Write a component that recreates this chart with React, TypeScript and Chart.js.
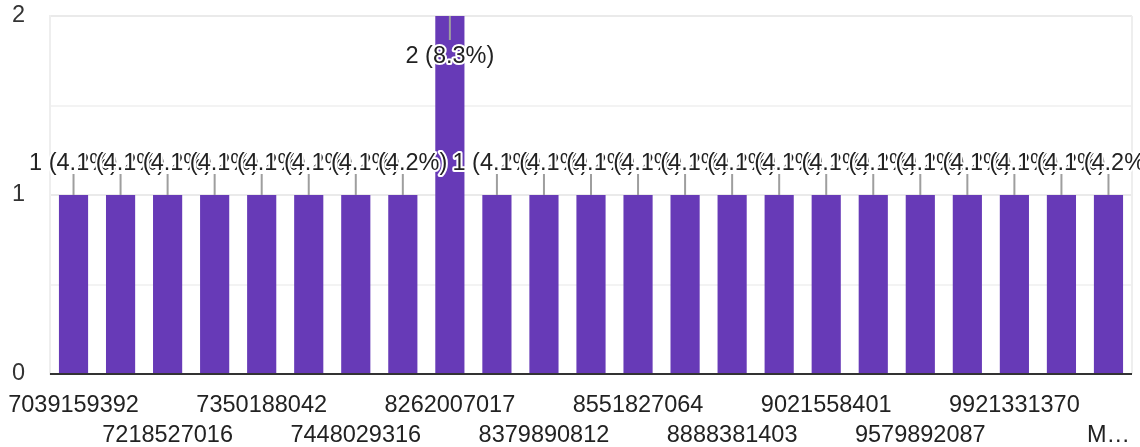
import React, { useEffect, useRef } from "react";
import { Chart, registerables } from "chart.js";

Chart.register(...registerables);

// Categories (every second label is hidden in the reference; hidden ones are placeholders in sort order)
const categories: string[] = [
  "7039159392", "7105542811", "7218527016", "7306771945", "7350188042", "7411639027",
  "7448029316", "7892015564", "8262007017", "8300517762", "8379890812", "8460227139",
  "8551827064", "8702415398", "8888381403", "8975104426", "9021558401", "9310648875",
  "9579892087", "9806251734", "9921331370", "9990176452", "M…",
];

const counts: number[] = [
  1, 1, 1, 1, 1, 1, 1, 1, 2, 1, 1, 1, 1, 1, 1, 1, 1, 1, 1, 1, 1, 1, 1,
];

const yTickValues: number[] = [0, 1, 2];

const FONT = '"Liberation Sans", Arial, sans-serif';
const BAR_COLOR = "#673ab7";

export default function App() {
  const ref = useRef<HTMLCanvasElement | null>(null);

  useEffect(() => {
    document.body.style.margin = "0";
    const canvas = ref.current;
    if (!canvas) return;
    const total = counts.reduce((a, b) => a + b, 0);
    const yMax = Math.max(...yTickValues);

    const frame = {
      id: "frame",
      beforeDatasetsDraw(chart: any) {
        const { ctx, chartArea } = chart;
        ctx.save();
        ctx.strokeStyle = "#eeeeee";
        ctx.lineWidth = 2;
        ctx.beginPath();
        ctx.moveTo(chartArea.right, chartArea.top);
        ctx.lineTo(chartArea.right, chartArea.bottom);
        ctx.stroke();
        ctx.restore();
      },
      afterDatasetsDraw(chart: any) {
        const { ctx, chartArea } = chart;
        ctx.save();
        ctx.strokeStyle = "#333333";
        ctx.lineWidth = 2;
        ctx.beginPath();
        ctx.moveTo(chartArea.left, chartArea.bottom);
        ctx.lineTo(chartArea.right, chartArea.bottom);
        ctx.stroke();
        ctx.restore();
      },
    };

    const dataLabels = {
      id: "dataLabels",
      afterDatasetsDraw(chart: any) {
        const { ctx } = chart;
        const meta = chart.getDatasetMeta(0);
        ctx.save();
        ctx.font = `23.5px ${FONT}`;
        ctx.textAlign = "center";
        ctx.textBaseline = "middle";
        meta.data.forEach((bar: any, i: number) => {
          const v = counts[i];
          const pct = ((v / total) * 100).toFixed(1);
          const text = `${v} (${pct}%)`;
          const x = bar.x;
          const top = bar.y;
          const inside = v >= yMax;
          const lineEnd = inside ? top + 24 : top - 21;
          const textY = inside ? lineEnd + 17 : lineEnd - 10;
          ctx.strokeStyle = "#9e9e9e";
          ctx.lineWidth = 2;
          ctx.beginPath();
          ctx.moveTo(x, top);
          ctx.lineTo(x, lineEnd);
          ctx.stroke();
          ctx.lineJoin = "round";
          ctx.strokeStyle = "#ffffff";
          ctx.lineWidth = 4;
          ctx.strokeText(text, x, textY);
          ctx.fillStyle = "#222222";
          ctx.fillText(text, x, textY);
        });
        ctx.restore();
      },
    };

    const chart = new Chart(canvas, {
      type: "bar",
      data: {
        labels: categories,
        datasets: [
          {
            data: counts,
            backgroundColor: BAR_COLOR,
            borderWidth: 0,
            categoryPercentage: 1,
            barPercentage: 0.62,
          },
        ],
      },
      options: {
        responsive: false,
        animation: false,
        layout: { padding: { top: 16, right: 8, bottom: 0, left: 0 } },
        plugins: { legend: { display: false }, tooltip: { enabled: false } },
        scales: {
          x: {
            grid: { display: false },
            border: { display: false },
            ticks: {
              autoSkip: false,
              maxRotation: 0,
              minRotation: 0,
              padding: 9,
              color: "#222222",
              font: { family: FONT, size: 23.5, lineHeight: 1.25 },
              callback: (_v: any, i: number) => {
                const label = categories[i];
                if (i % 2 === 1) return "";
                return i % 4 === 0 ? label : ["", label];
              },
            },
            afterFit: (scale: any) => {
              scale.height = 73;
              scale.paddingLeft = 0;
              scale.paddingRight = 0;
            },
          },
          y: {
            min: 0,
            max: yMax,
            grid: {
              drawTicks: false,
              color: (c: any) =>
                c.tick && c.tick.value === 0
                  ? "#333333"
                  : Number.isInteger(c.tick?.value)
                  ? "#eaeaea"
                  : "#f3f3f3",
              lineWidth: 2,
            },
            border: { display: true, color: "#eeeeee", width: 2 },
            ticks: {
              stepSize: 0.5,
              padding: 25,
              color: "#333333",
              font: { family: FONT, size: 23.5, lineHeight: 1.25 },
              callback: (v: any) => (yTickValues.includes(Number(v)) ? String(v) : ""),
            },
            afterFit: (scale: any) => {
              scale.width = 50;
              scale.paddingTop = 0;
              scale.paddingBottom = 0;
            },
          },
        },
      },
      plugins: [frame, dataLabels],
    });
    return () => chart.destroy();
  }, []);

  return (
    <div style={{ width: 1140, height: 447, background: "#ffffff" }}>
      <canvas ref={ref} width={1140} height={447} style={{ display: "block" }} />
    </div>
  );
}
